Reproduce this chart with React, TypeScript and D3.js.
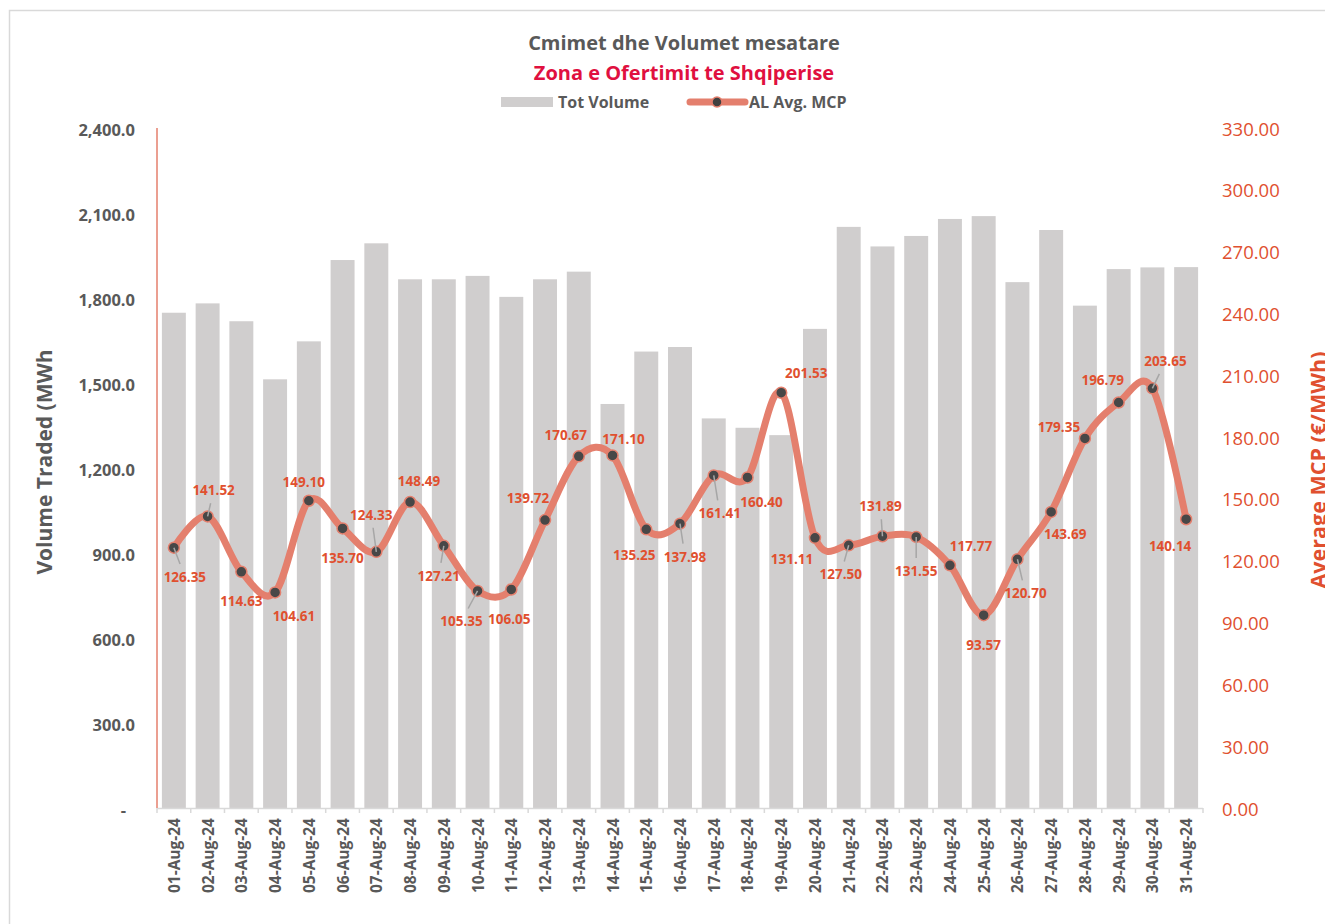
import React from "react";
import * as d3 from "d3";

const dates = [
  "01-Aug-24","02-Aug-24","03-Aug-24","04-Aug-24","05-Aug-24","06-Aug-24","07-Aug-24","08-Aug-24",
  "09-Aug-24","10-Aug-24","11-Aug-24","12-Aug-24","13-Aug-24","14-Aug-24","15-Aug-24","16-Aug-24",
  "17-Aug-24","18-Aug-24","19-Aug-24","20-Aug-24","21-Aug-24","22-Aug-24","23-Aug-24","24-Aug-24",
  "25-Aug-24","26-Aug-24","27-Aug-24","28-Aug-24","29-Aug-24","30-Aug-24","31-Aug-24",
];

const totVolume = [
  1748, 1781, 1718, 1513, 1647, 1934, 1993, 1866, 1866, 1878, 1804, 1866, 1893, 1426, 1611, 1627,
  1375, 1342, 1316, 1691, 2051, 1982, 2019, 2079, 2089, 1856, 2040, 1773, 1902, 1908, 1909,
];

const avgMcp = [
  126.35, 141.52, 114.63, 104.61, 149.10, 135.70, 124.33, 148.49, 127.21, 105.35, 106.05, 139.72,
  170.67, 171.10, 135.25, 137.98, 161.41, 160.40, 201.53, 131.11, 127.50, 131.89, 131.55, 117.77,
  93.57, 120.70, 143.69, 179.35, 196.79, 203.65, 140.14,
];

const volumeTicks = [0, 300, 600, 900, 1200, 1500, 1800, 2100, 2400];
const priceTicks = [0, 30, 60, 90, 120, 150, 180, 210, 240, 270, 300, 330];

// label placement (layout only): offset of label centre from its marker
const labelOffsets: [number, number][] = [
  [11, 29], [6, -26], [0, 29], [19, 24], [-5, -19], [0, 30], [-5, -37], [9, -21],
  [-5, 30], [-16, 30], [-2, 30], [-17, -22], [-13, -21], [11, -16], [-12, 26], [5, 33],
  [6, 38], [14, 25], [25, -20], [-23, 21], [-8, 29], [-2, -30], [0, 34], [21, -19],
  [0, 30], [8, 34], [14, 22], [-26, -11], [-16, -22], [13, -27], [-16, 27],
];
const leaderIdx = new Set([0, 1, 6, 8, 9, 15, 16, 20, 21, 22, 25, 29]);

const FONT = "'Open Sans', Lato, sans-serif";
const GRAY = "#595959";
const RED = "#E0502F";
const LINE = "#E47F6D";
const BAR = "#D0CECE";

export default function App() {
  const W = 1325, H = 924;
  const left = 157, right = 1203, top = 128, bottom = 808;

  const x = d3.scaleBand<string>().domain(dates).range([left, right]).paddingInner(0.29).paddingOuter(0.145);
  const step = (right - left) / dates.length;
  const yL = d3.scaleLinear().domain([0, 2400]).range([bottom, top]);
  const yR = d3.scaleLinear().domain([0, 330]).range([bottom, top]);
  const cx = (d: string) => (x(d) as number) + x.bandwidth() / 2;

  const pts: [number, number][] = avgMcp.map((v, i) => [cx(dates[i]), yR(v)]);
  const lineGen = d3.line().curve(d3.curveCardinal.tension(0));
  const path = lineGen(pts) || "";

  const fmtL = d3.format(",.1f");
  const fmtR = d3.format(".2f");

  const leaders = pts.map(([mx, my], i) => {
    if (!leaderIdx.has(i)) return null;
    const [dx, dy] = labelOffsets[i];
    const lx = mx + dx, ly = my + dy;
    const vx = mx - lx, vy = my - ly;
    const hw = 22, hh = 8;
    const t = Math.min(vx !== 0 ? hw / Math.abs(vx) : Infinity, vy !== 0 ? hh / Math.abs(vy) : Infinity);
    const len = Math.hypot(vx, vy);
    const gap = 5 / len;
    const sx = lx + vx * (t + gap), sy = ly + vy * (t + gap);
    return { sx, sy, mx, my };
  });

  return (
    <svg width={W} height={H} style={{ position: "absolute", left: 0, top: 0, background: "#fff" }} fontFamily={FONT}>
      <rect x={9.5} y={10.5} width={1400} height={1000} fill="#fff" stroke="#D9D9D9" strokeWidth={1.5} />

      {/* titles */}
      <text x={684} y={42} textAnchor="middle" dominantBaseline="central" fontSize={20} fontWeight={700} fill={GRAY}>
        Cmimet dhe Volumet mesatare
      </text>
      <text x={684} y={72} textAnchor="middle" dominantBaseline="central" fontSize={20} fontWeight={700} fill="#E0103F">
        Zona e Ofertimit te Shqiperise
      </text>

      {/* legend */}
      <rect x={501} y={97} width={52} height={10} fill={BAR} />
      <text x={558} y={102} dominantBaseline="central" fontSize={16} fontWeight={700} fill={GRAY}>Tot Volume</text>
      <line x1={690} x2={745} y1={102} y2={102} stroke={LINE} strokeWidth={7} strokeLinecap="round" />
      <circle cx={717} cy={102} r={5} fill="#404040" stroke={LINE} strokeWidth={1.5} />
      <text x={749} y={102} dominantBaseline="central" fontSize={16} fontWeight={700} fill={GRAY}>AL Avg. MCP</text>

      {/* bars */}
      {totVolume.map((v, i) => (
        <rect key={dates[i]} x={x(dates[i])} y={yL(v)} width={x.bandwidth()} height={bottom - yL(v)} fill={BAR} />
      ))}

      {/* x axis */}
      <line x1={left} x2={right} y1={bottom + 0.5} y2={bottom + 0.5} stroke="#D9D9D9" strokeWidth={1.5} />
      {d3.range(dates.length + 1).map((k) => (
        <line key={k} x1={left + k * step} x2={left + k * step} y1={bottom} y2={bottom + 5} stroke="#D9D9D9" strokeWidth={1.5} />
      ))}
      {dates.map((d) => (
        <text key={d} transform={`translate(${cx(d)},${818}) rotate(-90)`} textAnchor="end" dominantBaseline="central"
          fontSize={15.5} fontWeight={700} fill={GRAY}>{d}</text>
      ))}

      {/* left axis */}
      <line x1={left} x2={left} y1={top} y2={bottom} stroke={LINE} strokeWidth={1.5} />
      {volumeTicks.map((t) => (
        <text key={t} x={t === 0 ? 126 : 135} y={yL(t) + 1} textAnchor="end" dominantBaseline="central" fontSize={16.5} fontWeight={700} fill={GRAY}>
          {t === 0 ? "-" : fmtL(t)}
        </text>
      ))}
      <text transform={`translate(44,462) rotate(-90)`} textAnchor="middle" dominantBaseline="central" fontSize={21} fontWeight={700} fill={GRAY}>
        Volume Traded (MWh
      </text>

      {/* right axis */}
      {priceTicks.map((t) => (
        <text key={t} x={1222} y={yR(t)} dominantBaseline="central" fontSize={18.5} fill={RED}>{fmtR(t)}</text>
      ))}
      <text transform={`translate(1317,470) rotate(-90)`} textAnchor="middle" dominantBaseline="central" fontSize={21.5} fontWeight={700} fill={RED}>
        Average MCP (€/MWh)
      </text>

      {/* line */}
      <path d={path} fill="none" stroke={LINE} strokeWidth={7} strokeLinejoin="round" strokeLinecap="round" />
      {pts.map(([px, py], i) => (
        <circle key={i} cx={px} cy={py} r={5.5} fill="#474747" stroke={LINE} strokeWidth={1.5} />
      ))}
      {leaders.map((l, i) => l && (
        <line key={i} x1={l.sx} y1={l.sy} x2={l.mx} y2={l.my} stroke="#A6A6A6" strokeWidth={1.5} />
      ))}
      {pts.map(([px, py], i) => (
        <text key={i} x={px + labelOffsets[i][0]} y={py + labelOffsets[i][1]} textAnchor="middle" dominantBaseline="central"
          fontSize={13.5} fontWeight={700} fill={RED}>{fmtR(avgMcp[i])}</text>
      ))}
    </svg>
  );
}
